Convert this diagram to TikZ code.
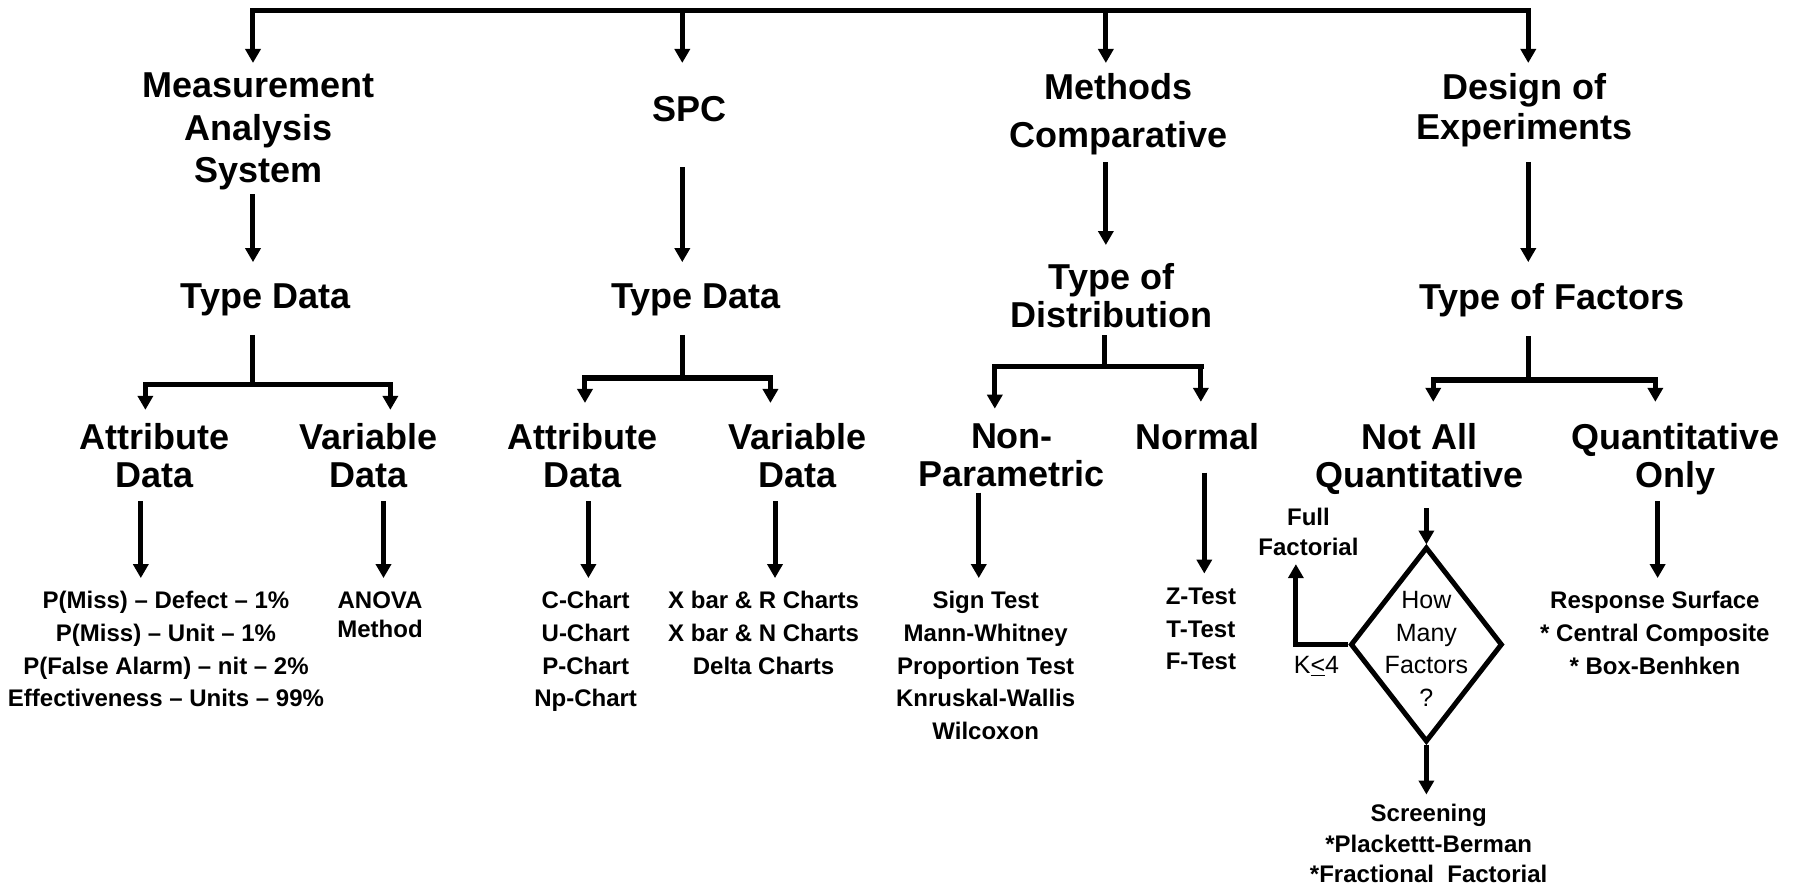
\documentclass[tikz,border=0pt]{standalone}
\usepackage{fontspec}
\setmainfont{Liberation Sans}
\usetikzlibrary{arrows.meta,shapes.geometric}

\begin{document}
\begin{tikzpicture}[x=1.1448pt,y=-1.1448pt,>={Triangle[length=14pt,width=15pt]},
  big/.style={font=\fontsize{36}{42.4}\selectfont\bfseries,align=center,inner sep=0pt,anchor=north},
  mid/.style={font=\fontsize{36}{37.8}\selectfont\bfseries,align=center,inner sep=0pt,anchor=north},
  small/.style={font=\fontsize{24}{32.6}\selectfont\bfseries,align=center,inner sep=0pt,anchor=north},
  plain/.style={font=\fontsize{25}{32.9}\selectfont,align=center,inner sep=0pt,anchor=north},
  arr/.style={line width=5pt,->},
  line/.style={line width=5pt},
  bus/.style={line width=5.5pt,line cap=rect}]

\useasboundingbox (0,0) rectangle (1568,774);

% Top bus
\coordinate (t1) at (221,9);
\coordinate (t2) at (596,9);
\coordinate (t3) at (966,9);
\coordinate (t4) at (1335,9);
\draw[bus] (t1) -- (t4);

% First level
\node[big] (mas) at (226,63.75) {Measurement\\Analysis\\System};
\node[big] (spc) at (602,83.75) {SPC};
\node[big] (mc) at (977,63.75) {Methods\\[5.7pt]Comparative};
\node[big] (doe) at (1332,63.75) {Design of\\[-2.4pt]Experiments};

\foreach \t in {t1,t2,t3,t4}
  \draw[arr,shorten >=10pt] (\t) -- (\t |- mas.north);

% Second level
\node[big] (td1) at (232,247.75) {Type Data};
\node[big] (td2) at (608,247.75) {Type Data};
\node[mid] (tod) at (971,229.75) {Type of\\Distribution};
\node[big] (tof) at (1356,247.75) {Type of Factors};

\draw[arr,shorten <=3.6pt,shorten >=21.5pt] (mas.south -| t1) -- (td1.north -| t1);
\draw[arr,shorten <=45.5pt,shorten >=21.5pt] (spc.south -| t2) -- (td2.north -| t2);
\draw[arr,shorten <=7pt,shorten >=18pt] (mc.south -| t3) -- (tod.north -| t3);
\draw[arr,shorten <=15pt,shorten >=21.5pt] (doe.south -| t4) -- (tof.north -| t4);

% Splits
\coordinate (s1) at (221,336);
\coordinate (s2) at (596,330);
\coordinate (s3) at (965,320);
\coordinate (s4) at (1335,332);
\coordinate (b1) at (127,358);
\coordinate (b2) at (341,358);
\coordinate (b3) at (511,352);
\coordinate (b4) at (673,352);
\coordinate (b5) at (869,357);
\coordinate (b6) at (1049,351);
\coordinate (b7) at (1252,351);
\coordinate (b8) at (1446,351);

\draw[line,shorten <=18.5pt] (td1.south -| s1) -- (s1);
\draw[line,shorten <=18.5pt] (td2.south -| s2) -- (s2);
\draw[line,shorten <=7.7pt] (tod.south -| s3) -- (s3);
\draw[line,shorten <=18.5pt] (tof.south -| s4) -- (s4);

\draw[bus] (b1 |- s1) -- (b2 |- s1);
\draw[bus] (b3 |- s2) -- (b4 |- s2);
\draw[bus] (b5 |- s3) -- (b6 |- s3);
\draw[bus] (b7 |- s4) -- (b8 |- s4);

\draw[arr] (b1 |- s1) -- (b1);
\draw[arr] (b2 |- s1) -- (b2);
\draw[arr] (b3 |- s2) -- (b3);
\draw[arr] (b4 |- s2) -- (b4);
\draw[arr] (b5 |- s3) -- (b5);
\draw[arr] (b6 |- s3) -- (b6);
\draw[arr] (b7 |- s4) -- (b7);
\draw[arr] (b8 |- s4) -- (b8);

% Third level
\node[mid] (att1) at (135,369.75) {Attribute\\Data};
\node[mid] (var1) at (322,369.75) {Variable\\Data};
\node[mid] (att2) at (509,369.75) {Attribute\\Data};
\node[mid] (var2) at (696.5,369.75) {Variable\\Data};
\node[mid] (np) at (884,369.75) {Non-\\Parametric};
\node[mid] (norm) at (1046,369.75) {Normal};
\node[mid] (nai) at (1240,369.75) {Not All\\Quantitative};
\node[mid] (qo) at (1464,369.75) {Quantitative\\Only};

% Lists
\node[small] (l1) at (145,516.5) {P(Miss) -- Defect -- 1\%\\P(Miss) -- Unit -- 1\%\\P(False Alarm) -- nit -- 2\%\\Effectiveness -- Units -- 99\%};
\node[small] (l2) at (332,516.5) {ANOVA\\[-3pt]Method};
\node[small] (l3) at (511.6,516.5) {C-Chart\\U-Chart\\P-Chart\\Np-Chart};
\node[small] (l4) at (667,516.5) {X bar \& R Charts\\X bar \& N Charts\\Delta Charts};
\node[small] (l5) at (861,516.5) {Sign Test\\Mann-Whitney\\Proportion Test\\Knruskal-Wallis\\Wilcoxon};
\node[small] (l6) at (1049,513.5) {Z-Test\\T-Test\\F-Test};
\node[small] (l8) at (1445.6,516.5) {Response Surface\\* Central Composite\\* Box-Benhken};

% Decision on number of factors
\node[diamond,draw,line width=5pt,minimum width=152pt,minimum height=195pt,inner sep=0pt] (dia) at (1246,563) {};
\node[plain] (how) at (1246,516) {How\\Many\\Factors\\?};
\node[small] (ff) at (1143,443.5) {Full\\[-2.8pt]Factorial};
\node[plain,anchor=center] (k4) at (1150,582) {K\underline{<}4};
\node[small] (scr) at (1248,702.5) {Screening\\[-2.3pt]*Plackettt-Berman\\[-2.3pt]*Fractional\ \ Factorial};

% Down to lists
\coordinate (d1) at (123,440);
\coordinate (d2) at (335,440);
\coordinate (d3) at (514,440);
\coordinate (d4) at (677,440);
\coordinate (d5) at (855,440);
\coordinate (d6) at (1052,440);
\coordinate (d8) at (1448,440);

\draw[arr,shorten <=13.5pt,shorten >=13.2pt] (att1.south -| d1) -- (l1.north -| d1);
\draw[arr,shorten <=13.5pt,shorten >=13.2pt] (var1.south -| d2) -- (l2.north -| d2);
\draw[arr,shorten <=13.5pt,shorten >=13.2pt] (att2.south -| d3) -- (l3.north -| d3);
\draw[arr,shorten <=13.5pt,shorten >=13.2pt] (var2.south -| d4) -- (l4.north -| d4);
\draw[arr,shorten <=6pt,shorten >=13.2pt] (np.south -| d5) -- (l5.north -| d5);
\draw[arr,shorten <=22.6pt,shorten >=14.3pt] (norm.south -| d6) -- (l6.north -| d6);
\draw[arr,shorten <=13.5pt] (nai.south -| dia.north) -- (dia.north);
\draw[arr,shorten <=6pt,shorten >=13.2pt] (qo.south -| d8) -- (l8.north -| d8);

\draw[arr,shorten >=9.7pt] (dia.south) -- (scr.north -| dia.south);
\draw[arr,shorten >=8.6pt] (dia.west) -| ([xshift=-12.6pt]ff.south);

\end{tikzpicture}
\end{document}
